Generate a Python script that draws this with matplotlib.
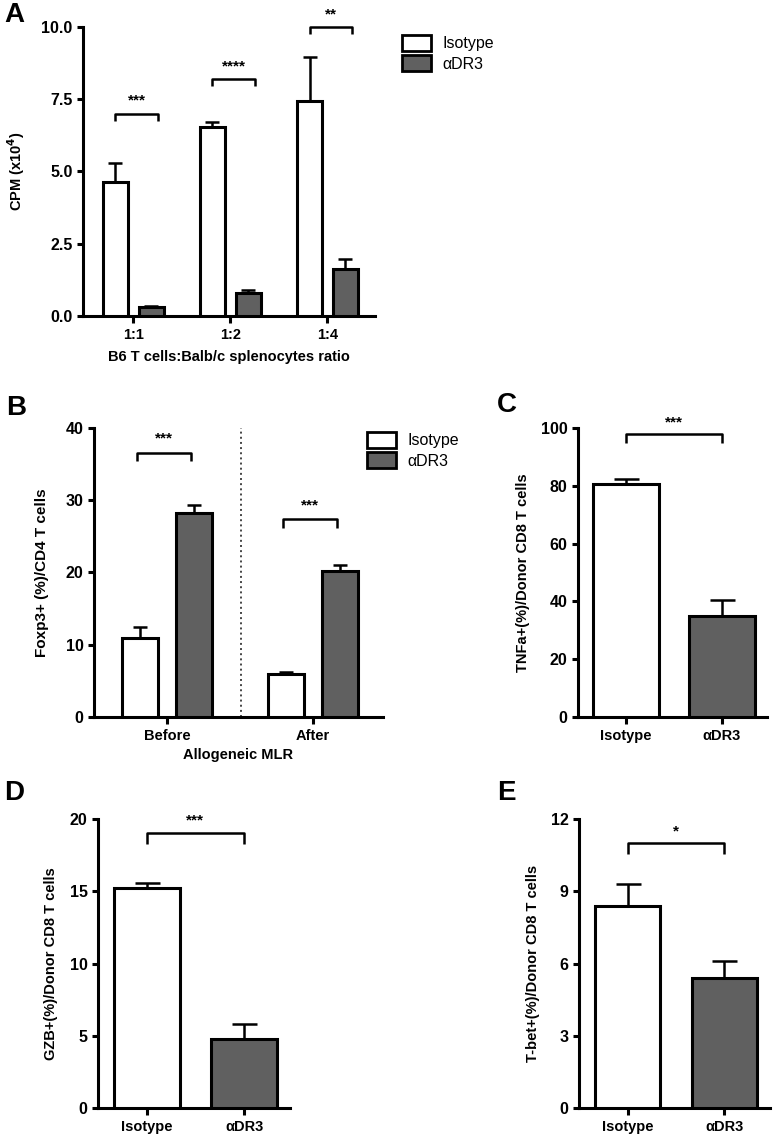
import matplotlib
matplotlib.use("Agg")
import matplotlib.pyplot as plt
from matplotlib.patches import Patch

plt.rcParams.update({
    "font.family": ["Liberation Sans", "DejaVu Sans"],
    "font.weight": "bold",
    "axes.linewidth": 2.2,
    "xtick.major.width": 2.2,
    "ytick.major.width": 2.2,
    "xtick.major.size": 5,
    "ytick.major.size": 4,
    "xtick.labelsize": 10.5,
    "ytick.labelsize": 11.5,
})

ISO_COLOR = "white"
DR3_COLOR = "#606060"
EDGE = "black"

# Panel A
a_groups = ["1:1", "1:2", "1:4"]
a_iso = [4.65, 6.55, 7.45]
a_iso_err = [0.65, 0.15, 1.5]
a_dr3 = [0.3, 0.8, 1.62]
a_dr3_err = [0.05, 0.1, 0.35]
a_sig = ["***", "****", "**"]
a_sig_y = [7.0, 8.2, 10.0]

# Panel B
b_groups = ["Before", "After"]
b_iso = [11.0, 5.9]
b_iso_err = [1.5, 0.3]
b_dr3 = [28.2, 20.2]
b_dr3_err = [1.1, 0.9]
b_sig = ["***", "***"]
b_sig_y = [36.6, 27.4]

# Panels C, D, E
cde_labels = ["Isotype", "αDR3"]
c_vals = [80.5, 34.8]
c_err = [1.8, 5.6]
d_vals = [15.2, 4.8]
d_err = [0.35, 1.0]
e_vals = [8.4, 5.4]
e_err = [0.9, 0.7]


def style_axes(ax):
    ax.spines["top"].set_visible(False)
    ax.spines["right"].set_visible(False)
    for lab in ax.get_xticklabels() + ax.get_yticklabels():
        lab.set_fontweight("bold")


def bracket(ax, x1, x2, y, drop, text, text_pad):
    ax.plot([x1, x1, x2, x2], [y - drop, y, y, y - drop], color="black",
            lw=1.8, clip_on=False, solid_capstyle="butt")
    ax.text((x1 + x2) / 2, y + text_pad, text, ha="center", va="center",
            fontsize=11, fontweight="bold")


def bars(ax, xs, vals, errs, width, color):
    ax.bar(xs, vals, width=width, color=color, edgecolor=EDGE, linewidth=2.2,
           zorder=3)
    ax.errorbar(xs, vals, yerr=[[0] * len(vals), errs], fmt="none",
                ecolor="black", elinewidth=1.8, capsize=5, capthick=1.8,
                zorder=2)


def panel_letter(fig, x, y, s):
    fig.text(x / 774, 1 - y / 1135, s, fontsize=20, fontweight="bold",
             ha="left", va="center")


def add_legend(fig, x, y, handles):
    fig.legend(handles, cde_labels, loc="upper left",
               bbox_to_anchor=(x / 774, 1 - y / 1135), frameon=False,
               prop={"size": 11.5, "weight": "normal"}, handlelength=1.8,
               handleheight=1.1, labelspacing=0.25, handletextpad=0.7)


fig = plt.figure(figsize=(7.74, 11.35), dpi=100)
handles = [Patch(facecolor=ISO_COLOR, edgecolor=EDGE, linewidth=2),
           Patch(facecolor=DR3_COLOR, edgecolor=EDGE, linewidth=2)]

# ---- A
ax = fig.add_axes([0.1072, 0.7216, 0.3773, 0.2546])
xs = list(range(len(a_groups)))
off = 0.185
w = 0.26
bars(ax, [x - off for x in xs], a_iso, a_iso_err, w, ISO_COLOR)
bars(ax, [x + off for x in xs], a_dr3, a_dr3_err, w, DR3_COLOR)
for x, s, y in zip(xs, a_sig, a_sig_y):
    bracket(ax, x - off, x + off + 0.07, y, 0.25, s, 0.45)
ax.set_xlim(-0.52, 2.49)
ax.set_ylim(0, 10)
ax.set_yticks([0, 2.5, 5.0, 7.5, 10.0])
ax.set_yticklabels(["0.0", "2.5", "5.0", "7.5", "10.0"])
ax.set_xticks(xs)
ax.set_xticklabels(a_groups)
ax.set_ylabel("CPM (x10$^{\\mathbf{4}}$)", fontsize=10.5, fontweight="bold",
              labelpad=10)
ax.set_xlabel("B6 T cells:Balb/c splenocytes ratio", fontsize=10.5,
              fontweight="bold", labelpad=6)
style_axes(ax)
add_legend(fig, 388, 21, handles)
panel_letter(fig, 4, 15, "A")

# ---- B
ax = fig.add_axes([0.1214, 0.3683, 0.3734, 0.2546])
xs = list(range(len(b_groups)))
off = 0.185
w = 0.25
bars(ax, [x - off for x in xs], b_iso, b_iso_err, w, ISO_COLOR)
bars(ax, [x + off for x in xs], b_dr3, b_dr3_err, w, DR3_COLOR)
for x, s, y in zip(xs, b_sig, b_sig_y):
    bracket(ax, x - off - 0.02, x + off - 0.02, y, 1.2, s, 1.9)
ax.axvline(0.507, color="#444444", lw=1.4, ls=":", zorder=1)
ax.set_xlim(-0.5, 1.48)
ax.set_ylim(0, 40)
ax.set_yticks([0, 10, 20, 30, 40])
ax.set_xticks(xs)
ax.set_xticklabels(b_groups)
ax.set_ylabel("Foxp3+ (%)/CD4 T cells", fontsize=11, fontweight="bold",
              labelpad=12)
ax.set_xlabel("Allogeneic MLR", fontsize=10.5, fontweight="bold", labelpad=4)
style_axes(ax)
add_legend(fig, 353, 418, handles)
panel_letter(fig, 6, 408, "B")


def single_panel(rect, vals, errs, ymax, ticks, ylabel, sig, sig_y, drop,
                 pad, letter, lx, ly):
    ax = fig.add_axes(rect)
    xs = [0, 1]
    ax.bar(xs, vals, width=0.68, color=[ISO_COLOR, DR3_COLOR],
           edgecolor=EDGE, linewidth=2.2, zorder=3)
    ax.errorbar(xs, vals, yerr=[[0, 0], errs], fmt="none", ecolor="black",
                elinewidth=1.8, capsize=9, capthick=1.8, zorder=2)
    bracket(ax, 0, 1, sig_y, drop, sig, pad)
    ax.set_xlim(-0.5, 1.47)
    ax.set_ylim(0, ymax)
    ax.set_yticks(ticks)
    ax.set_xticks(xs)
    ax.set_xticklabels(cde_labels)
    ax.set_ylabel(ylabel, fontsize=10.5, fontweight="bold", labelpad=8)
    style_axes(ax)
    panel_letter(fig, lx, ly, letter)


single_panel([0.7468, 0.3683, 0.2442, 0.2546], c_vals, c_err, 100,
             [0, 20, 40, 60, 80, 100], "TNFa+(%)/Donor CD8 T cells",
             "***", 97.9, 3.0, 4.0, "C", 497, 405)
single_panel([0.1266, 0.0238, 0.2481, 0.2546], d_vals, d_err, 20,
             [0, 5, 10, 15, 20], "GZB+(%)/Donor CD8 T cells",
             "***", 19.0, 0.7, 0.9, "D", 4, 793)
single_panel([0.7481, 0.0238, 0.2468, 0.2546], e_vals, e_err, 12,
             [0, 3, 6, 9, 12], "T-bet+(%)/Donor CD8 T cells",
             "*", 11.0, 0.45, 0.5, "E", 497, 793)

fig.savefig("out.png", dpi=100)
